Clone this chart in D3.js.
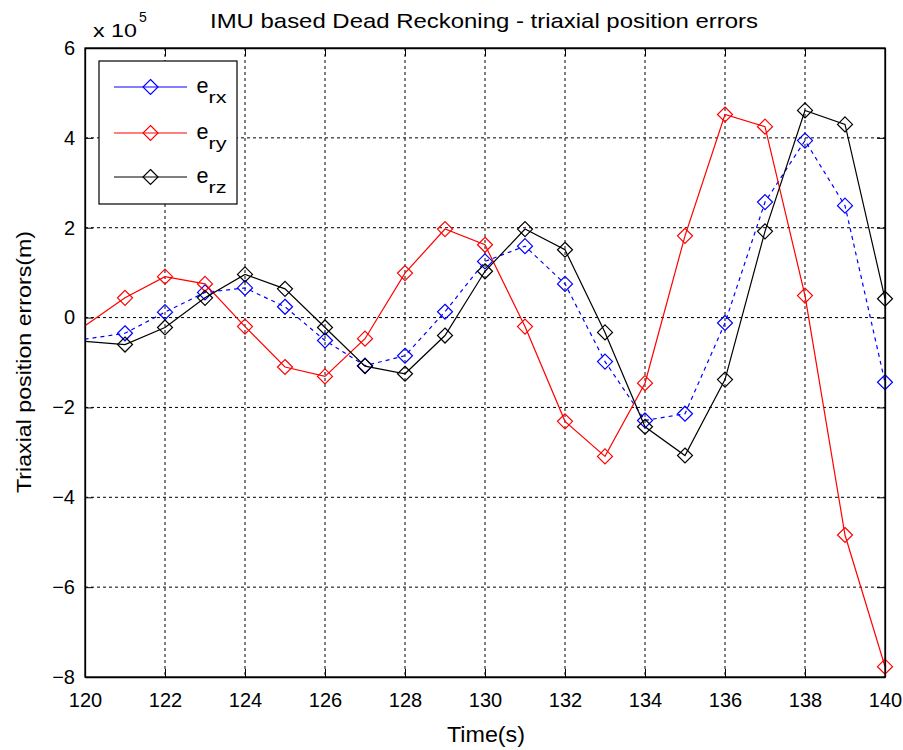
<!DOCTYPE html>
<html>
<head>
<meta charset="utf-8">
<script src="https://cdn.jsdelivr.net/npm/d3@7/dist/d3.min.js"></script>
<style>
body{margin:0;background:#fff;}
svg{display:block;font-family:"Liberation Sans",Arial,sans-serif;}
</style>
</head>
<body>
<svg id="chart" width="903" height="750"></svg>
<script>
// ---- data (values in units of 1e5 m) ----
const t = [119,121,122,123,124,125,126,127,128,129,130,131,132,133,134,135,136,137,138,139,140];
const erx = [-0.61,-0.35,0.12,0.56,0.66,0.24,-0.51,-1.07,-0.85,0.13,1.25,1.59,0.75,-0.98,-2.29,-2.14,-0.12,2.57,3.94,2.49,-1.44];
const ery = [-0.80,0.44,0.91,0.75,-0.20,-1.10,-1.31,-0.47,0.99,1.97,1.62,-0.20,-2.31,-3.09,-1.46,1.82,4.52,4.25,0.49,-4.84,-7.77];
const erz = [-0.46,-0.60,-0.22,0.44,0.96,0.64,-0.22,-1.08,-1.25,-0.40,1.03,1.97,1.51,-0.33,-2.43,-3.07,-1.38,1.92,4.61,4.30,0.42];
const xTicks = [120,122,124,126,128,130,132,134,136,138,140];
const yTicks = [-8,-6,-4,-2,0,2,4,6];
const seriesNames = ["rx","ry","rz"];
const seriesColors = ["#0000ff","#ff0000","#000000"];
const seriesDash = ["4,4", null, null];

const svg = d3.select("#chart");
const L = 85, R = 885, T = 48, B = 677;
const x = d3.scaleLinear().domain([120,140]).range([L,R]);
const y = d3.scaleLinear().domain([-8,6]).range([B,T]);
const FONT = "'Liberation Sans',Arial,sans-serif";

svg.append("rect").attr("width",903).attr("height",750).attr("fill","#fff");

svg.append("defs").append("clipPath").attr("id","clip")
  .append("rect").attr("x",L).attr("y",T).attr("width",R-L).attr("height",B-T);

// grid
const grid = svg.append("g");
xTicks.slice(1,-1).forEach(v=>{
  grid.append("line").attr("x1",x(v)).attr("x2",x(v)).attr("y1",T).attr("y2",B)
    .attr("stroke","#000").attr("stroke-width",1).attr("stroke-dasharray","3,3");
});
yTicks.slice(1,-1).forEach(v=>{
  grid.append("line").attr("x1",L).attr("x2",R).attr("y1",y(v)).attr("y2",y(v))
    .attr("stroke","#000").attr("stroke-width",1).attr("stroke-dasharray","3,3");
});

// axes with inward ticks on all sides
const tl = 8;
const axB = svg.append("g").attr("transform",`translate(0,${B})`)
  .call(d3.axisBottom(x).tickValues(xTicks).tickSizeInner(-tl).tickSizeOuter(0).tickPadding(16));
const axL = svg.append("g").attr("transform",`translate(${L},0)`)
  .call(d3.axisLeft(y).tickValues(yTicks).tickSizeInner(-tl).tickSizeOuter(0).tickPadding(10));
const axT = svg.append("g").attr("transform",`translate(0,${T})`)
  .call(d3.axisTop(x).tickValues(xTicks).tickSizeInner(-tl).tickSizeOuter(0).tickFormat(""));
const axR = svg.append("g").attr("transform",`translate(${R},0)`)
  .call(d3.axisRight(y).tickValues(yTicks).tickSizeInner(-tl).tickSizeOuter(0).tickFormat(""));
[axB,axL,axT,axR].forEach(a=>{
  a.selectAll("path").attr("stroke","#000").attr("stroke-width",1.3);
  a.selectAll("line").attr("stroke","#000").attr("stroke-width",1);
  a.selectAll("text").attr("fill","#000").style("font-size","20px").style("font-family",FONT);
});
axB.selectAll("text").attr("dy","0.71em");

// series
const seriesData = [erx, ery, erz];
const line = d3.line().x(d=>x(d[0])).y(d=>y(d[1]));
const diamond = (cx,cy,r)=>`M${cx},${cy-r}L${cx+r},${cy}L${cx},${cy+r}L${cx-r},${cy}Z`;
seriesData.forEach((vals,i)=>{
  const pts = t.map((tt,j)=>[tt, vals[j]]);
  svg.append("path").datum(pts).attr("d",line).attr("clip-path","url(#clip)")
    .attr("fill","none").attr("stroke",seriesColors[i]).attr("stroke-width",1.2)
    .attr("stroke-dasharray",seriesDash[i]);
  svg.append("g").selectAll("path").data(pts.filter(p=>p[0]>=120)).join("path")
    .attr("d",p=>diamond(x(p[0]),y(p[1]),7.5))
    .attr("fill","none").attr("stroke",seriesColors[i]).attr("stroke-width",1.2);
});

// redraw frame on top
svg.append("rect").attr("x",L).attr("y",T).attr("width",R-L).attr("height",B-T)
  .attr("fill","none").attr("stroke","#000").attr("stroke-width",1.3);

// legend
const lg = svg.append("g");
lg.append("rect").attr("x",99).attr("y",61).attr("width",138).attr("height",143)
  .attr("fill","#fff").attr("stroke","#000").attr("stroke-width",1.2);
const rowY = [87,133,177];
seriesNames.forEach((n,i)=>{
  lg.append("line").attr("x1",114).attr("x2",187).attr("y1",rowY[i]).attr("y2",rowY[i])
    .attr("stroke",seriesColors[i]).attr("stroke-width",1.2);
  lg.append("path").attr("d",diamond(150.5,rowY[i],7.5))
    .attr("fill","none").attr("stroke",seriesColors[i]).attr("stroke-width",1.2);
  lg.append("text").attr("x",196.5).attr("y",rowY[i]+5.5).attr("fill","#000")
    .style("font-size","22px").attr("textLength",12).attr("lengthAdjust","spacingAndGlyphs").text("e");
  lg.append("text").attr("x",208.5).attr("y",rowY[i]+15.5).attr("fill","#000")
    .style("font-size","17px").attr("textLength",18).attr("lengthAdjust","spacingAndGlyphs").text(n);
});

// titles
svg.append("text").attr("x",484).attr("y",28).attr("text-anchor","middle")
  .style("font-size","21px").attr("fill","#000")
  .attr("textLength",548).attr("lengthAdjust","spacingAndGlyphs")
  .text("IMU based Dead Reckoning - triaxial position errors");
svg.append("text").attr("x",486).attr("y",742).attr("text-anchor","middle")
  .style("font-size","22px").attr("fill","#000")
  .attr("textLength",78).attr("lengthAdjust","spacingAndGlyphs").text("Time(s)");
svg.append("text").attr("transform","translate(31,362) rotate(-90)").attr("text-anchor","middle")
  .style("font-size","21px").attr("fill","#000")
  .attr("textLength",262).attr("lengthAdjust","spacingAndGlyphs")
  .text("Triaxial position errors(m)");
svg.append("text").attr("x",93).attr("y",37).style("font-size","19px").attr("fill","#000")
  .attr("textLength",44).attr("lengthAdjust","spacingAndGlyphs").text("x 10");
svg.append("text").attr("x",139).attr("y",22).style("font-size","14px").attr("fill","#000").text("5");
</script>
</body>
</html>
